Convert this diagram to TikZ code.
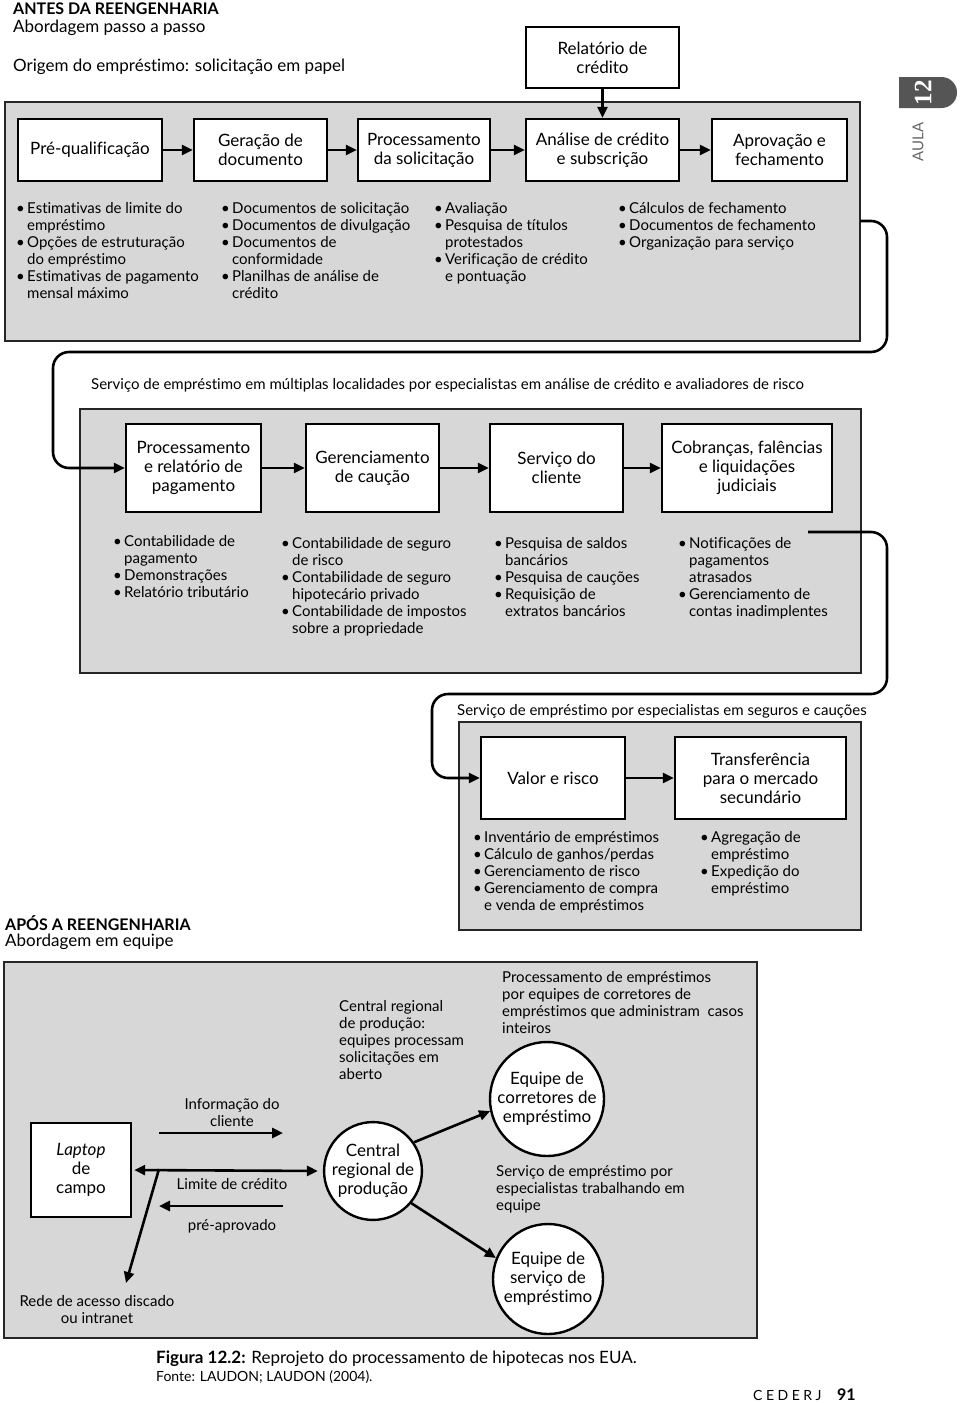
\documentclass[tikz,border=0pt]{standalone}
\usepackage{fontspec}
\setmainfont{Lato}[Ligatures=NoCommon]
\newfontfamily\tabfont{Liberation Serif}
\usepackage{tikz}
\usetikzlibrary{arrows.meta}
\usetikzlibrary{shapes.misc}
\definecolor{panelgray}{HTML}{D7D7D7}
\definecolor{tabgray}{HTML}{555555}
\newcommand{\boxnode}[6]{\node[stepbox, minimum width=#4pt, minimum height=#5pt] (#1) at (#2,#3) {#6};}
\newcommand{\panel}[4]{\draw[panel] (#1,#2) rectangle (#3,#4);}
\newcommand{\itm}{\strut\makebox[11pt][l]{\textbullet}}
\newcommand{\contl}{\strut\hspace*{11pt}}
\newcommand{\bulletlist}[4]{\node[bulletlist] (#1) at (#2,#3) {#4};}
\tikzset{
  stepbox/.style={draw, line width=2.4pt, fill=white, align=center, inner sep=2pt, font=\fontsize{17}{19}\selectfont},
  panel/.style={draw=black!85, line width=1.8pt, fill=panelgray},
  bulletlist/.style={anchor=north west, inner sep=0pt, align=left, font=\fontsize{15}{17}\selectfont},
  txt/.style={inner sep=0pt, font=\fontsize{15}{17}\selectfont},
  bigtxt/.style={inner sep=0pt, font=\fontsize{17}{19}\selectfont},
  arr/.style={line width=2.6pt, -{Triangle[length=11pt,width=10pt]}},
  loopline/.style={line width=2.6pt, rounded corners=16pt, -{Triangle[length=11pt,width=10pt]}},
  circ/.style={circle, draw, line width=2.4pt, fill=white, align=center, inner sep=0pt, font=\fontsize{17}{19}\selectfont},
}
\begin{document}
\begin{tikzpicture}[x=1pt, y=-1pt]
        \useasboundingbox (0,0) rectangle (960,1403);
        % headings
        \node[bigtxt, anchor=west, font=\fontsize{16}{19}\selectfont\bfseries] (antes) at (13,9) {ANTES DA REENGENHARIA};
        \node[bigtxt, anchor=west] (passo) at (13,28) {Abordagem passo a passo};
        \node[bigtxt, anchor=west] (origem) at (13,67) {Origem do empréstimo: solicitação em papel};
        % aula tab
        \node[rounded rectangle, rounded rectangle west arc=none, fill=tabgray, minimum width=58pt, minimum height=31pt, inner sep=0pt] (tab) at (928,92.5) {};
        \node[rotate=90, text=white, inner sep=0pt, font=\fontsize{25}{25}\tabfont\bfseries] (num) at (923,92.5) {12};
        \node[rotate=90, text=black!60, inner sep=0pt, font=\fontsize{15}{15}\selectfont] (aula) at (918,142) {AULA};

        % panels
        \panel{5}{102}{860}{341}
        \panel{80}{409}{861}{673}
        \panel{459}{722}{861}{930}
        \panel{4}{962}{757}{1338}

        % row1
        \boxnode{rc}{602.5}{57.5}{153}{61}{Relatório de\\crédito}
        \boxnode{pq}{90}{150}{144}{62}{Pré-qualificação}
        \boxnode{gd}{260.5}{150}{133}{62}{Geração de\\documento}
        \boxnode{ps}{424}{150}{132}{62}{Processamento\\da solicitação}
        \boxnode{ac}{602.5}{150}{153}{62}{Análise de crédito\\e subscrição}
        \boxnode{af}{779.5}{150}{135}{62}{Aprovação e\\fechamento}
        \draw[arr] (pq) -- (gd);
        \draw[arr] (gd) -- (ps);
        \draw[arr] (ps) -- (ac);
        \draw[arr] (af.west -| ac.east) -- (af);
        \draw[arr] (rc) -- (ac);
        % lists for row1
        \bulletlist{l1}{16}{201}{\itm Estimativas de limite do\\\contl empréstimo\\\itm Opções de estruturação\\\contl do empréstimo\\\itm Estimativas de pagamento\\\contl mensal máximo}
        \bulletlist{l2}{221}{201}{\itm Documentos de solicitação\\\itm Documentos de divulgação\\\itm Documentos de\\\contl conformidade\\\itm Planilhas de análise de\\\contl crédito}
        \bulletlist{l3}{434}{201}{\itm Avaliação\\\itm Pesquisa de títulos\\\contl protestados\\\itm Verificação de crédito\\\contl e pontuação}
        \bulletlist{l4}{618}{201}{\itm Cálculos de fechamento\\\itm Documentos de fechamento\\\itm Organização para serviço}

        % row2
        \node[txt, anchor=west] (multi) at (91,385) {Serviço de empréstimo em múltiplas localidades por especialistas em análise de crédito e avaliadores de risco};
        \boxnode{pr}{193.5}{468}{135}{88}{Processamento\\e relatório de\\pagamento}
        \boxnode{gc}{372.5}{468}{133}{88}{Gerenciamento\\de caução}
        \boxnode{sc}{556.5}{468}{133}{88}{Serviço do\\cliente}
        \boxnode{cf}{747}{468}{170}{88}{Cobranças, falências\\e liquidações\\judiciais}
        \draw[arr] (pr) -- (gc);
        \draw[arr] (gc) -- (sc);
        \draw[arr] (sc) -- (cf);
        \coordinate (out1) at (860,221);
        \draw[loopline] (out1) -- (887,221) -- (887,352) -- (53,352) -- (53,468) -- (pr.west);
        % lists for row2
        \bulletlist{m1}{113}{534}{\itm Contabilidade de\\\contl pagamento\\\itm Demonstrações\\\itm Relatório tributário}
        \bulletlist{m2}{281}{536}{\itm Contabilidade de seguro\\\contl de risco\\\itm Contabilidade de seguro\\\contl hipotecário privado\\\itm Contabilidade de impostos\\\contl sobre a propriedade}
        \bulletlist{m3}{494}{536}{\itm Pesquisa de saldos\\\contl bancários\\\itm Pesquisa de cauções\\\itm Requisição de\\\contl extratos bancários}
        \bulletlist{m4}{678}{536}{\itm Notificações de\\\contl pagamentos\\\contl atrasados\\\itm Gerenciamento de\\\contl contas inadimplentes}

        % row3
        \node[txt, anchor=west] (seguros) at (457,711) {Serviço de empréstimo por especialistas em seguros e cauções};
        \boxnode{vr}{553}{778}{144}{82}{Valor e risco}
        \boxnode{tm}{760.5}{778}{171}{82}{Transferência\\para o mercado\\secundário}
        \draw[arr] (vr) -- (tm);
        \coordinate (out2) at (808,532);
        \draw[loopline] (out2) -- (887,532) -- (887,694) -- (432,694) -- (432,778) -- (vr.west);
        % lists for row3
        \bulletlist{b1}{473}{830}{\itm Inventário de empréstimos\\\itm Cálculo de ganhos/perdas\\\itm Gerenciamento de risco\\\itm Gerenciamento de compra\\\contl e venda de empréstimos}
        \bulletlist{b2}{700}{830}{\itm Agregação de\\\contl empréstimo\\\itm Expedição do\\\contl empréstimo}

        % after reengineering
        \node[bigtxt, anchor=west, font=\fontsize{16}{19}\selectfont\bfseries] (apos) at (5,923) {APÓS A REENGENHARIA};
        \node[bigtxt, anchor=west] (equipe) at (5,942) {Abordagem em equipe};
        \boxnode{lap}{81}{1170}{100}{94}{\textit{Laptop}\\de\\campo}
        \node[circ, minimum size=96pt] (crp) at (373,1171) {Central\\regional de\\produção};
        \node[circ, minimum size=114pt] (ec) at (547,1099) {Equipe de\\corretores de\\empréstimo};
        \node[circ, minimum size=110pt] (es) at (548,1279) {Equipe de\\serviço de\\empréstimo};
        \node[txt, anchor=north, align=center] (info) at (232,1097) {\strut Informação do\\cliente};
        \node[txt] (limite) at (232,1184) {Limite de crédito};
        \node[txt] (preap) at (232,1226) {pré-aprovado};
        \node[txt, anchor=north, align=center] (rede) at (97,1294) {\strut Rede de acesso discado\\ou intranet};
        \node[txt, anchor=north west, align=left] (crtxt) at (339,999) {\strut Central regional\\de produção:\\equipes processam\\solicitações em\\aberto};
        \node[txt, anchor=north west, align=left] (ectxt) at (502,970) {\strut Processamento de empréstimos\\por equipes de corretores de\\empréstimos que administram\ \ casos\\inteiros};
        \node[txt, anchor=north west, align=left] (estxt) at (496,1164) {\strut Serviço de empréstimo por\\especialistas trabalhando em\\equipe};
        \coordinate (info1) at (159,1133);
        \coordinate (info2) at (283,1133);
        \coordinate (lim1) at (283,1206);
        \coordinate (lim2) at (159,1206);
        \coordinate (split) at (159,1169);
        \coordinate (redeend) at (126,1283);
        \draw[arr] (info1) -- (info2);
        \draw[arr] (lim1) -- (lim2);
        \draw[line width=2.6pt, {Triangle[length=11pt,width=10pt]}-{Triangle[length=11pt,width=10pt]}, shorten <=2pt, shorten >=5pt] (lap.east) -- (crp.west);
        \draw[arr] (split) -- (redeend);
        \draw[arr] (crp.35) -- (ec.192);
        \draw[arr] (crp.-40) -- (es.158);

        % caption
        \node[bigtxt, anchor=west] (cap) at (156,1359) {\textbf{Figura 12.2:} Reprojeto do processamento de hipotecas nos EUA.};
        \node[txt, anchor=west, font=\fontsize{14}{15}\selectfont] (fonte) at (156,1377) {Fonte: LAUDON; LAUDON (2004).};
        \node[txt, anchor=west, font=\fontsize{14}{16}\selectfont\addfontfeature{LetterSpace=25}] (cederj) at (753,1395) {CEDERJ};
        \node[txt, anchor=west, font=\fontsize{16}{18}\selectfont\bfseries] (page) at (837,1395) {91};
\end{tikzpicture}
\end{document}
